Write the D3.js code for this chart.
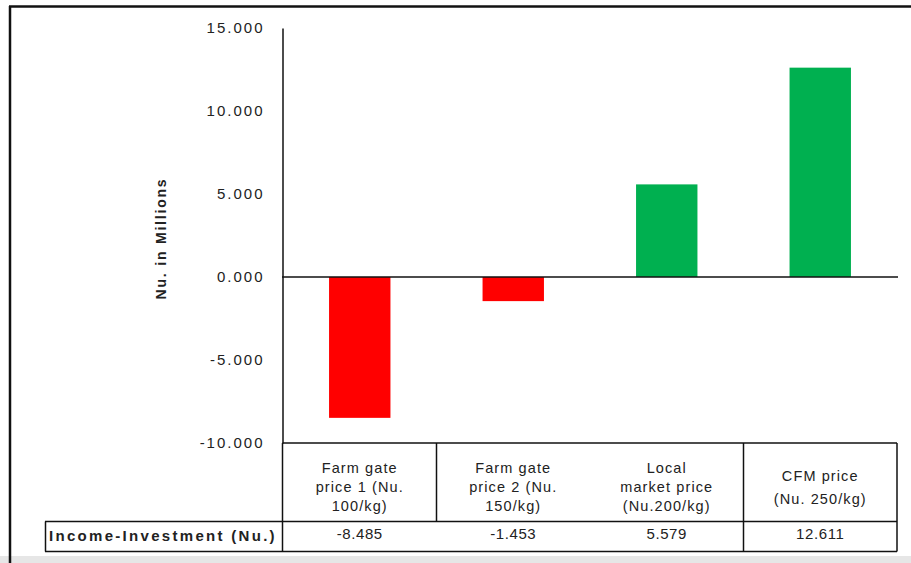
<!DOCTYPE html>
<html>
<head>
<meta charset="utf-8">
<script src="https://cdn.jsdelivr.net/npm/d3@7/dist/d3.min.js"></script>
<style>
  html, body { margin: 0; padding: 0; background: #fff; }
  svg { display: block; font-family: "Liberation Sans", Arial, sans-serif; }
</style>
</head>
<body>
<svg id="chart" width="911" height="563"></svg>
<script>
// Net income minus investment under each selling-price scenario (Nu. in millions)
const categories = ["fg1", "fg2", "local", "cfm"];
const headerLines = [
  ["Farm gate", "price 1 (Nu.", "100/kg)"],
  ["Farm gate", "price 2 (Nu.", "150/kg)"],
  ["Local", "market price", "(Nu.200/kg)"],
  ["CFM price", "(Nu. 250/kg)"]
];
const values = [-8.485, -1.453, 5.579, 12.611];
const valueLabels = ["-8.485", "-1.453", "5.579", "12.611"];
const yTicks = [15, 10, 5, 0, -5, -10];
const rowLabel = "Income-Investment (Nu.)";
const yTitle = "Nu. in Millions";

const svg = d3.select("#chart");

// page frame
svg.append("rect").attr("x", 0).attr("y", 556).attr("width", 911).attr("height", 7).attr("fill", "#e6e6e6");
svg.append("line").attr("x1", 10).attr("x2", 10).attr("y1", 6).attr("y2", 563)
  .attr("stroke", "#111").attr("stroke-width", 2.5);
svg.append("line").attr("x1", 9).attr("x2", 911).attr("y1", 6.5).attr("y2", 6.5)
  .attr("stroke", "#111").attr("stroke-width", 2.5);

const x = d3.scaleBand().domain(categories).range([283, 897]).paddingInner(0.6).paddingOuter(0.3);
const y = d3.scaleLinear().domain([-10, 15]).range([443, 28]);

// bars
svg.append("g").selectAll("rect").data(values).join("rect")
  .attr("x", (d, i) => x(categories[i]))
  .attr("width", x.bandwidth())
  .attr("y", d => y(Math.max(0, d)))
  .attr("height", d => Math.abs(y(d) - y(0)))
  .attr("fill", d => d < 0 ? "#ff0000" : "#00b050");

// zero line
svg.append("line").attr("x1", 282).attr("x2", 898).attr("y1", y(0)).attr("y2", y(0))
  .attr("stroke", "#111").attr("stroke-width", 1.5);

// value axis (plain hyphen for negatives)
const fmt = d => d3.format(".3f")(d).replace("\u2212", "-");
const yAxis = svg.append("g").attr("transform", "translate(282.5,0)")
  .call(d3.axisLeft(y).tickValues(yTicks).tickSize(0).tickPadding(18).tickFormat(fmt));
yAxis.select(".domain").attr("stroke", "#111").attr("stroke-width", 1.5);
yAxis.selectAll("text").attr("font-size", 15).attr("letter-spacing", 2)
  .attr("fill", "#222").attr("font-family", "'Liberation Sans', Arial, sans-serif");

svg.append("text")
  .attr("transform", `translate(166,${(175 + 302) / 2}) rotate(-90)`)
  .attr("text-anchor", "middle")
  .attr("font-size", 14).attr("font-weight", "bold").attr("letter-spacing", 1.8)
  .attr("fill", "#222")
  .text(yTitle);

// data table under the plot
const tbl = svg.append("g").attr("stroke", "#111").attr("stroke-width", 1.5);
tbl.append("line").attr("x1", 282.5).attr("x2", 897).attr("y1", 443).attr("y2", 443);
tbl.append("line").attr("x1", 45).attr("x2", 897).attr("y1", 521.5).attr("y2", 521.5);
tbl.append("line").attr("x1", 45).attr("x2", 897).attr("y1", 551.5).attr("y2", 551.5);
tbl.append("line").attr("x1", 45.5).attr("x2", 45.5).attr("y1", 521.5).attr("y2", 551.5);
tbl.append("line").attr("x1", 282.5).attr("x2", 282.5).attr("y1", 443).attr("y2", 551.5);
tbl.append("line").attr("x1", 436.5).attr("x2", 436.5).attr("y1", 443).attr("y2", 521.5);
tbl.append("line").attr("x1", 743.5).attr("x2", 743.5).attr("y1", 443).attr("y2", 551.5);
tbl.append("line").attr("x1", 897).attr("x2", 897).attr("y1", 443).attr("y2", 551.5);

const headers = svg.append("g").selectAll("text").data(headerLines).join("text")
  .attr("x", (d, i) => x(categories[i]) + x.bandwidth() / 2)
  .attr("text-anchor", "middle")
  .attr("font-size", 14.5).attr("letter-spacing", 1.1).attr("fill", "#222");
headers.each(function (lines) {
  const lh = lines.length === 3 ? 19 : 23;
  const top = 487 - (lines.length - 1) * lh / 2 + 5;
  d3.select(this).selectAll("tspan").data(lines).join("tspan")
    .attr("x", d3.select(this).attr("x"))
    .attr("y", (d, j) => top + j * lh)
    .text(d => d);
});

svg.append("g").selectAll("text").data(valueLabels).join("text")
  .attr("x", (d, i) => x(categories[i]) + x.bandwidth() / 2)
  .attr("y", 539)
  .attr("text-anchor", "middle")
  .attr("font-size", 15).attr("letter-spacing", 0.6).attr("fill", "#222")
  .text(d => d);

svg.append("text").attr("x", 49).attr("y", 541)
  .attr("font-size", 15).attr("font-weight", "bold").attr("letter-spacing", 2.3)
  .attr("fill", "#222")
  .text(rowLabel);
</script>
</body>
</html>
